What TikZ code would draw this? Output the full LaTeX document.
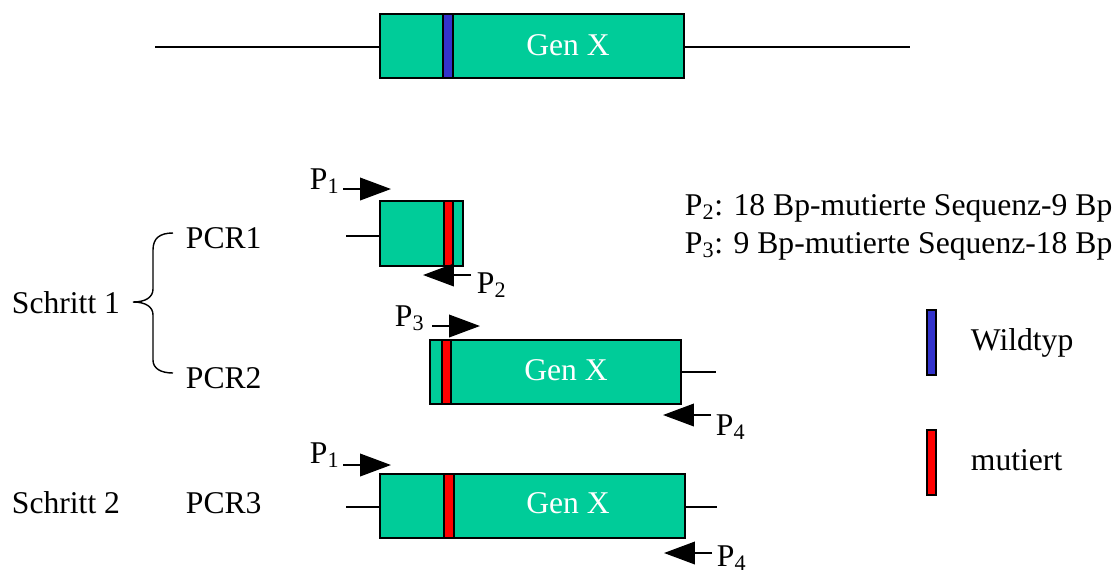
\documentclass[tikz,border=0pt]{standalone}
\usepackage{fontspec}
\setmainfont{Liberation Serif}
\usetikzlibrary{arrows.meta}

\definecolor{genegreen}{RGB}{0,204,153}
\definecolor{wildblue}{RGB}{51,51,204}
\definecolor{mutred}{RGB}{255,0,0}

\begin{document}
\begin{tikzpicture}[x=0.025cm, y=-0.025cm, line width=1.3pt,
	genbox/.style={draw, fill=genegreen},
	wildbar/.style={draw, fill=wildblue},
	mutbar/.style={draw, fill=mutred},
	primer/.style={line width=1.5pt, -{Triangle[length=22pt, width=16pt]}},
	lbl/.style={font=\fontsize{22.5}{26}\selectfont, anchor=base west, inner sep=0pt},
	gentxt/.style={font=\fontsize{22.5}{26}\selectfont, text=white, anchor=base, inner sep=0pt}]

		\useasboundingbox (0,0) rectangle (1114,575);

		% Ausgangsgen
		\coordinate (dnaL) at (155,47);
		\coordinate (dnaR) at (910,47);
		\draw (dnaL) -- (dnaR);
		\draw[genbox] (380,14) rectangle (684,78);
		\draw[wildbar] (443,14) rectangle (453,78);
		\node[gentxt] (gen0) at (568,55) {Gen X};

		% PCR1
		\coordinate (pcr1L) at (346,236);
		\coordinate (pcr1B) at (380,236);
		\draw (pcr1L) -- (pcr1B);
		\draw[genbox] (380,201) rectangle (463,266);
		\draw[mutbar] (444,201) rectangle (453,266);
		\coordinate (p1s) at (343,189);
		\coordinate (p1e) at (391,189);
		\draw[primer] (p1s) -- (p1e);
		\node[lbl] (p1a) at (309,189) {P\textsubscript{1}};
		\coordinate (p2s) at (471,275);
		\coordinate (p2e) at (423,275);
		\draw[primer] (p2s) -- (p2e);
		\node[lbl] (p2) at (476,293) {P\textsubscript{2}};

		% PCR2
		\coordinate (pcr2B) at (681,372);
		\coordinate (pcr2R) at (716,372);
		\draw (pcr2B) -- (pcr2R);
		\draw[genbox] (430,340) rectangle (681,404);
		\draw[mutbar] (442,340) rectangle (451,404);
		\node[gentxt] (gen2) at (566,380) {Gen X};
		\coordinate (p3s) at (432,326);
		\coordinate (p3e) at (480,326);
		\draw[primer] (p3s) -- (p3e);
		\node[lbl] (p3) at (394,326) {P\textsubscript{3}};
		\coordinate (p4s) at (711,415);
		\coordinate (p4e) at (663,415);
		\draw[primer] (p4s) -- (p4e);
		\node[lbl] (p4a) at (715,435) {P\textsubscript{4}};

		% PCR3
		\coordinate (pcr3L) at (346,507);
		\coordinate (pcr3R) at (717,507);
		\draw (pcr3L) -- (pcr3R);
		\draw[genbox] (380,474) rectangle (685,538);
		\draw[mutbar] (444,474) rectangle (454,538);
		\node[gentxt] (gen3) at (568,513) {Gen X};
		\coordinate (p1t) at (343,465);
		\coordinate (p1u) at (391,465);
		\draw[primer] (p1t) -- (p1u);
		\node[lbl] (p1b) at (309,463) {P\textsubscript{1}};
		\coordinate (p4t) at (712,553);
		\coordinate (p4u) at (664,553);
		\draw[primer] (p4t) -- (p4u);
		\node[lbl] (p4b) at (716,566) {P\textsubscript{4}};

		% Schritte
		\node[lbl] (step1) at (11,313) {Schritt 1};
		\node[lbl] (step2) at (11,513) {Schritt 2};
		\node[lbl] (pcr1) at (185,248) {PCR1};
		\node[lbl] (pcr2) at (185,388) {PCR2};
		\node[lbl] (pcr3) at (185,513) {PCR3};
		\draw[line width=1pt] (173,233) .. controls (160,233) and (153,238) .. (153,250) -- (153,289)
			.. controls (153,297) and (146,302) .. (133,302)
			.. controls (146,302) and (153,307) .. (153,315) -- (153,360)
			.. controls (153,368) and (160,373) .. (173,373);

		% Primer
		\node[lbl] (info2) at (684,215) {P\textsubscript{2}: 18 Bp-mutierte Sequenz-9 Bp};
		\node[lbl] (info3) at (684,253) {P\textsubscript{3}: 9 Bp-mutierte Sequenz-18 Bp};

		% Legende
		\draw[wildbar] (927,310) rectangle (936,375);
		\draw[mutbar] (927,430) rectangle (936,495);
		\node[lbl] (wild) at (970,350) {Wildtyp};
		\node[lbl] (mut) at (970,470) {mutiert};
    \end{tikzpicture}
\end{document}
